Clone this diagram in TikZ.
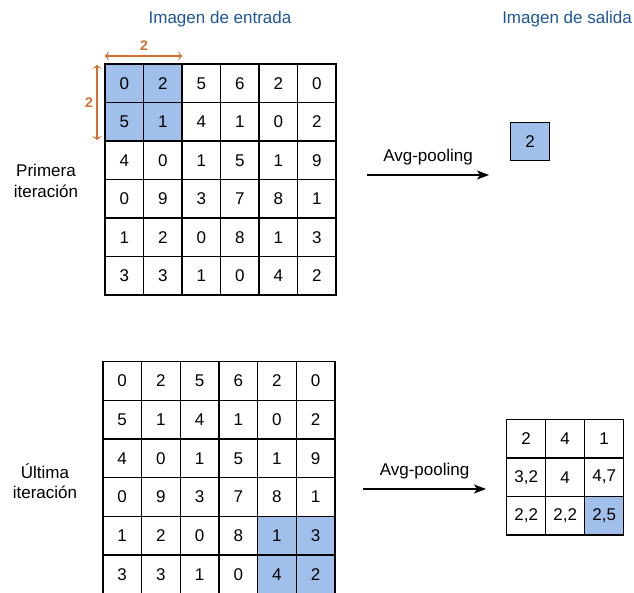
\documentclass[tikz,border=0pt]{standalone}
\usepackage{fontspec}
\setmainfont{Liberation Sans}
\usetikzlibrary{arrows.meta}
\definecolor{cellblue}{RGB}{161,191,235}
\definecolor{titleblue}{RGB}{30,86,152}
\definecolor{dimorange}{RGB}{214,110,48}
\tikzset{
  cell/.style={draw=black, line width=1.3pt, minimum width=38.6pt, minimum height=38.6pt,
    inner sep=0pt, font=\fontsize{17}{20}\selectfont},
  hl/.style={fill=cellblue},
  title/.style={font=\fontsize{17}{20}\selectfont, text=titleblue},
  caption/.style={font=\fontsize{17}{20.5}\selectfont, align=center},
  flow/.style={line width=1.6pt, -{Stealth[length=12pt,width=9pt,inset=3pt]}},
  dim/.style={draw=dimorange, line width=2.2pt,
    {Stealth[length=4pt,width=10pt,inset=2pt]}-{Stealth[length=4pt,width=10pt,inset=2pt]}},
  dimlabel/.style={text=dimorange, font=\fontsize{14}{16}\selectfont\bfseries}
}
\begin{document}
\begin{tikzpicture}[x=1pt,y=-1pt]
\useasboundingbox (0,0) rectangle (634,593);

% titles
\node[title] (tin) at (220,19) {Imagen de entrada};
\node[title] (tout) at (567,19) {Imagen de salida};

% input grids (first and last iteration)
\foreach \row [count=\r] in {{0,2,5,6,2,0},{5,1,4,1,0,2},{4,0,1,5,1,9},{0,9,3,7,8,1},{1,2,0,8,1,3},{3,3,1,0,4,2}} {
  \foreach \v [count=\c] in \row {
    \pgfmathsetmacro{\hlA}{(\r<3 && \c<3) ? 1 : 0}
    \pgfmathsetmacro{\hlB}{(\r>4 && \c>4) ? 1 : 0}
    \ifdim\hlA pt>0pt
      \node[cell,hl] (a-\r-\c) at ({105+38.5*(\c-0.5)},{64+38.5*(\r-0.5)}) {\v};
    \else
      \node[cell] (a-\r-\c) at ({105+38.5*(\c-0.5)},{64+38.5*(\r-0.5)}) {\v};
    \fi
    \ifdim\hlB pt>0pt
      \node[cell,hl] (b-\r-\c) at ({102.8+38.7*(\c-0.5)},{361.5+38.7*(\r-0.5)}) {\v};
    \else
      \node[cell] (b-\r-\c) at ({102.8+38.7*(\c-0.5)},{361.5+38.7*(\r-0.5)}) {\v};
    \fi
  }
}

% kernel size marks
\coordinate (hx1) at (105,56);
\coordinate (hx2) at (182,56);
\coordinate (vy1) at (97,65);
\coordinate (vy2) at (97,140);
\draw[dim] (hx1) -- (hx2);
\draw[dim] (vy1) -- (vy2);
\node[dimlabel] (hlab) at (144,46) {2};
\node[dimlabel] (vlab) at (89,103) {2};

% row captions
\node[caption] (first) at (46,181) {Primera\\iteración};
\node[caption] (last) at (45,481) {Última\\iteración};

% first iteration output
\coordinate (f1) at (367,175);
\coordinate (f2) at (489,175);
\draw[flow] (f1) -- (f2) node[midway, above=6pt, caption] (lab1) {Avg-pooling};
\node[cell,hl] (o) at (530,141.5) {2};

% last iteration output
\coordinate (g1) at (363,489);
\coordinate (g2) at (486,489);
\draw[flow] (g1) -- (g2) node[midway, above=6pt, caption] (lab2) {Avg-pooling};
\foreach \row [count=\r] in {{2,4,1},{3{,}2,4,4{,}7},{2{,}2,2{,}2,2{,}5}} {
  \foreach \v [count=\c] in \row {
    \ifnum\r\c=33
      \node[cell,hl,minimum width=39pt] (p-\r-\c) at ({506.7+39*(\c-0.5)},{419.3+38.6*(\r-0.5)}) {\v};
    \else
      \node[cell,minimum width=39pt] (p-\r-\c) at ({506.7+39*(\c-0.5)},{419.3+38.6*(\r-0.5)}) {\v};
    \fi
  }
}
\end{tikzpicture}
\end{document}
